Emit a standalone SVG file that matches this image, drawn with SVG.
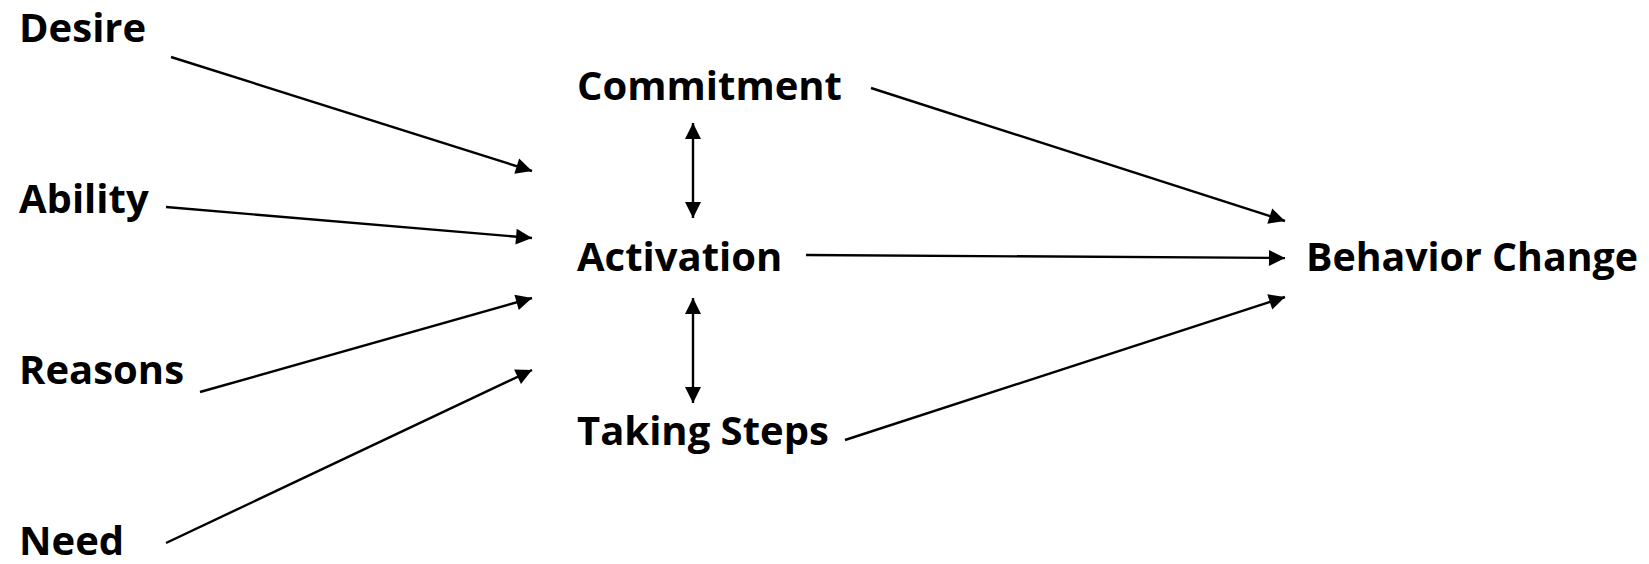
<svg xmlns="http://www.w3.org/2000/svg" width="1649" height="564" viewBox="0 0 1649 564">
<style>
.lbl{font-family:"Open Sans","Noto Sans",sans-serif;font-weight:700;font-size:40px;fill:#000}
.c{stroke:#000;stroke-width:2.4;fill:none}
</style>
<defs>
<marker id="ah" viewBox="0 0 10 10" refX="10" refY="5" markerWidth="8" markerHeight="8" markerUnits="userSpaceOnUse" orient="auto-start-reverse" overflow="visible">
<path d="M0,0 L10,5 L0,10 z" fill="#000" transform="scale(2)translate(-5,-2.5)"/>
</marker>
</defs>
<rect width="1649" height="564" fill="#fff"/>
<g id="desire"><text class="lbl" x="19" y="42">Desire</text></g>
<g id="ability"><text class="lbl" x="19" y="213">Ability</text></g>
<g id="reasons"><text class="lbl" x="19" y="384">Reasons</text></g>
<g id="need"><text class="lbl" x="19" y="555">Need</text></g>
<g id="commitment"><text class="lbl" x="577" y="100">Commitment</text></g>
<g id="activation"><text class="lbl" x="577" y="271">Activation</text></g>
<g id="taking-steps"><text class="lbl" x="577" y="445">Taking Steps</text></g>
<g id="behavior-change"><text class="lbl" x="1306" y="271" textLength="332" lengthAdjust="spacingAndGlyphs">Behavior Change</text></g>
<g id="connectors">
<line class="c" x1="171" y1="57" x2="532" y2="171" marker-end="url(#ah)"/>
<line class="c" x1="166" y1="207" x2="532" y2="238" marker-end="url(#ah)"/>
<line class="c" x1="200" y1="392" x2="532" y2="298" marker-end="url(#ah)"/>
<line class="c" x1="166" y1="543" x2="532" y2="370" marker-end="url(#ah)"/>
<line class="c" x1="871" y1="88" x2="1285" y2="221" marker-end="url(#ah)"/>
<line class="c" x1="806" y1="255" x2="1285" y2="258" marker-end="url(#ah)"/>
<line class="c" x1="845" y1="440" x2="1285" y2="297" marker-end="url(#ah)"/>
<line class="c" x1="693" y1="123" x2="693" y2="218" marker-start="url(#ah)" marker-end="url(#ah)"/>
<line class="c" x1="693" y1="298" x2="693" y2="403" marker-start="url(#ah)" marker-end="url(#ah)"/>
</g>
</svg>
